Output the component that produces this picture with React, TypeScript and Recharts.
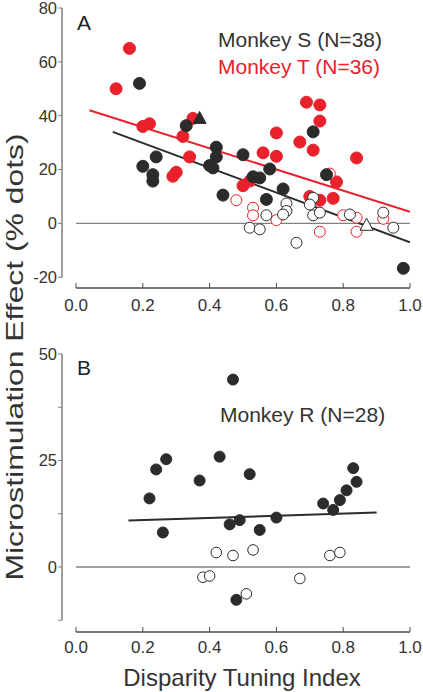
import { ScatterChart, Scatter, XAxis, YAxis, ReferenceLine } from "recharts";

type Pt = [number, number];

const xTicks = [0, 0.2, 0.4, 0.6, 0.8, 1.0];
const yTicksA = [-20, 0, 20, 40, 60, 80];
const yTicksB = [-12.5, 0, 12.5, 25, 37.5, 50];
const yLabelsB = [0, 25, 50];

// panel A, monkey S (black)
const sFilled: Pt[] = [
    [0.19, 52], [0.33, 36.3], [0.24, 24.7], [0.2, 21.2], [0.23, 18.1], [0.23, 15.7],
    [0.42, 28.3], [0.42, 24.7], [0.4, 21.5], [0.41, 20.6], [0.5, 25.5], [0.44, 10.5],
    [0.53, 17.3], [0.55, 16.9], [0.58, 20.2], [0.62, 12.8], [0.57, 8.9], [0.71, 34],
    [0.75, 18.1], [0.98, -16.7],
];
const sOpen: Pt[] = [
    [0.71, 9.5], [0.63, 7.4], [0.7, 7], [0.63, 4.6], [0.62, 3.3], [0.57, 3], [0.71, 3],
    [0.73, 4], [0.82, 3.3], [0.92, 4], [0.52, -1.6], [0.55, -2.2], [0.66, -7.2], [0.95, -1.6],
];
const sTriFilled: Pt[] = [[0.37, 39]];
const sTriOpen: Pt[] = [[0.87, -0.7]];
const sFit: Pt[] = [[0.11, 34], [1.0, -7]];

// panel A, monkey T (red)
const tFilled: Pt[] = [
    [0.16, 65], [0.12, 50], [0.2, 36], [0.22, 37], [0.35, 39], [0.32, 32.3], [0.34, 24.7],
    [0.29, 17.5], [0.3, 19], [0.5, 14], [0.52, 15.7], [0.69, 45], [0.73, 44], [0.73, 38],
    [0.6, 33.6], [0.67, 30.2], [0.71, 27.2], [0.56, 26.2], [0.6, 24.9], [0.84, 24.3],
    [0.78, 15.4], [0.7, 10], [0.73, 8.6], [0.77, 9.3],
];
const tOpen: Pt[] = [
    [0.48, 8.6], [0.53, 5.8], [0.53, 3], [0.6, 1.2], [0.8, 3], [0.84, 2.1], [0.92, 1.7],
    [0.73, -3.1], [0.84, -3.1], [0.76, 18.5],
];
const tFit: Pt[] = [[0.04, 42], [1.0, 4.3]];

// panel B, monkey R
const rFilled: Pt[] = [
    [0.22, 16.1], [0.24, 22.9], [0.27, 25.3], [0.26, 8.1], [0.37, 20.3], [0.43, 25.9],
    [0.47, 44], [0.52, 21.8], [0.46, 10], [0.49, 11], [0.55, 8.7], [0.6, 11.6],
    [0.74, 14.9], [0.77, 13.4], [0.79, 15.7], [0.81, 18], [0.84, 20], [0.83, 23.2],
    [0.48, -7.7],
];
const rOpen: Pt[] = [
    [0.42, 3.4], [0.47, 2.7], [0.53, 4], [0.38, -2.4], [0.4, -2.1], [0.51, -6.3],
    [0.67, -2.7], [0.76, 2.7], [0.79, 3.4],
];
const rFit: Pt[] = [[0.157, 10.9], [0.9, 12.8]];

const RED = "#e8212b";
const DARK = "#2b2b2b";
const FONT = "'Liberation Sans', Arial, sans-serif";
const X_MIN = -0.042;
const Y_MIN_A = -24;
const Y_MIN_B = -15.26;

const pts = (a: Pt[]) => a.map(([x, y]) => ({ x, y }));

const dot = (r: number, fill: string, stroke: string) => (p: any) => (
    <circle cx={p.cx} cy={p.cy} r={r} fill={fill} stroke={stroke} strokeWidth={1} />
);

const tri = (fill: string, stroke: string) => (p: any) => (
    <polygon
        points={`${p.cx},${p.cy - 7} ${p.cx - 6.5},${p.cy + 5} ${p.cx + 6.5},${p.cy + 5}`}
        fill={fill}
        stroke={stroke}
        strokeWidth={1}
    />
);

const noShape = () => <g />;

const tickStyle = { fontSize: 17, fill: "#333", fontFamily: FONT };

function PanelA() {
    return (
        <ScatterChart width={423} height={330} margin={{ top: 8, right: 13, bottom: 12, left: 22 }}>
            <XAxis
                type="number"
                dataKey="x"
                domain={[X_MIN, 1]}
                ticks={xTicks}
                interval={0}
                allowDataOverflow
                axisLine={false}
                tickSize={-5}
                tickMargin={16}
                tickLine={{ stroke: "#4d4d4d" }}
                tick={tickStyle}
                tickFormatter={(v: number) => v.toFixed(1)}
                height={30}
            />
            <YAxis
                type="number"
                dataKey="y"
                domain={[Y_MIN_A, 80]}
                ticks={yTicksA}
                interval={0}
                allowDataOverflow
                axisLine={false}
                tickSize={4}
                tickMargin={1}
                tickLine={{ stroke: "#7f7f7f" }}
                tick={{ ...tickStyle, fontSize: 16.5 }}
                width={40}
            />
            <ReferenceLine segment={[{ x: X_MIN, y: -20 }, { x: X_MIN, y: 80 }]} stroke="#7f7f7f" strokeWidth={1.5} ifOverflow="visible" />
            <ReferenceLine segment={[{ x: 0, y: Y_MIN_A }, { x: 1, y: Y_MIN_A }]} stroke="#4d4d4d" strokeWidth={1.3} ifOverflow="visible" />
            <ReferenceLine segment={[{ x: 0, y: 0 }, { x: 1, y: 0 }]} stroke="#808080" strokeWidth={1.3} />
            <Scatter data={pts(tFit)} line={{ stroke: RED, strokeWidth: 2 }} shape={noShape} isAnimationActive={false} />
            <Scatter data={pts(sFit)} line={{ stroke: DARK, strokeWidth: 2 }} shape={noShape} isAnimationActive={false} />
            <Scatter data={pts(tFilled)} shape={dot(6, RED, RED)} isAnimationActive={false} />
            <Scatter data={pts(tOpen)} shape={dot(5.5, "#fff", RED)} isAnimationActive={false} />
            <Scatter data={pts(sOpen)} shape={dot(5.5, "#fff", DARK)} isAnimationActive={false} />
            <Scatter data={pts(sFilled)} shape={dot(6, DARK, DARK)} isAnimationActive={false} />
            <Scatter data={pts(sTriFilled)} shape={tri(DARK, DARK)} isAnimationActive={false} />
            <Scatter data={pts(sTriOpen)} shape={tri("#fff", DARK)} isAnimationActive={false} />
        </ScatterChart>
    );
}

function PanelB() {
    return (
        <ScatterChart width={423} height={362} margin={{ top: 24, right: 13, bottom: 30, left: 22 }}>
            <XAxis
                type="number"
                dataKey="x"
                domain={[X_MIN, 1]}
                ticks={xTicks}
                interval={0}
                allowDataOverflow
                axisLine={false}
                tickSize={-5}
                tickMargin={14}
                tickLine={{ stroke: "#4d4d4d" }}
                tick={tickStyle}
                tickFormatter={(v: number) => v.toFixed(1)}
                height={30}
            />
            <YAxis
                type="number"
                dataKey="y"
                domain={[Y_MIN_B, 50]}
                ticks={yTicksB}
                interval={0}
                allowDataOverflow
                axisLine={false}
                tickSize={4}
                tickMargin={1}
                tickLine={{ stroke: "#7f7f7f" }}
                tick={{ ...tickStyle, fontSize: 16.5 }}
                tickFormatter={(v: number) => (yLabelsB.includes(v) ? String(v) : "")}
                width={40}
            />
            <ReferenceLine segment={[{ x: X_MIN, y: -12.5 }, { x: X_MIN, y: 50 }]} stroke="#7f7f7f" strokeWidth={1.5} ifOverflow="visible" />
            <ReferenceLine segment={[{ x: 0, y: Y_MIN_B }, { x: 1, y: Y_MIN_B }]} stroke="#4d4d4d" strokeWidth={1.3} ifOverflow="visible" />
            <ReferenceLine segment={[{ x: 0, y: 0 }, { x: 1, y: 0 }]} stroke="#808080" strokeWidth={1.3} />
            <Scatter data={pts(rFit)} line={{ stroke: DARK, strokeWidth: 2 }} shape={noShape} isAnimationActive={false} />
            <Scatter data={pts(rOpen)} shape={dot(5.3, "#fff", DARK)} isAnimationActive={false} />
            <Scatter data={pts(rFilled)} shape={dot(5.5, DARK, DARK)} isAnimationActive={false} />
        </ScatterChart>
    );
}

export default function App() {
    return (
        <div style={{ position: "absolute", left: 0, top: 0, width: 423, height: 692, background: "#fff", fontFamily: FONT }}>
            <div style={{ position: "absolute", left: 0, top: 0 }}>
                <PanelA />
            </div>
            <div style={{ position: "absolute", left: 0, top: 330 }}>
                <PanelB />
            </div>
            <svg width={423} height={692} style={{ position: "absolute", left: 0, top: 0, pointerEvents: "none" }}>
                <g fontFamily={FONT}>
                    <text x={77} y={30} fontSize={21} fill="#222">A</text>
                    <text x={77} y={375} fontSize={21} fill="#222">B</text>
                    <text x={218} y={47} fontSize={21} fill="#333">Monkey S (N=38)</text>
                    <text x={218} y={74} fontSize={21} fill={RED}>Monkey T (N=36)</text>
                    <text x={220} y={422} fontSize={21} fill="#333">Monkey R (N=28)</text>
                    <text x={242} y={686} fontSize={24} fill="#333" textAnchor="middle">Disparity Tuning Index</text>
                    <text
                        transform="translate(23, 357) rotate(-90)"
                        fontSize={24}
                        fill="#333"
                        textAnchor="middle"
                        textLength={447}
                        lengthAdjust="spacingAndGlyphs"
                    >
                        Microstimulation Effect (% dots)
                    </text>
                </g>
            </svg>
        </div>
    );
}
